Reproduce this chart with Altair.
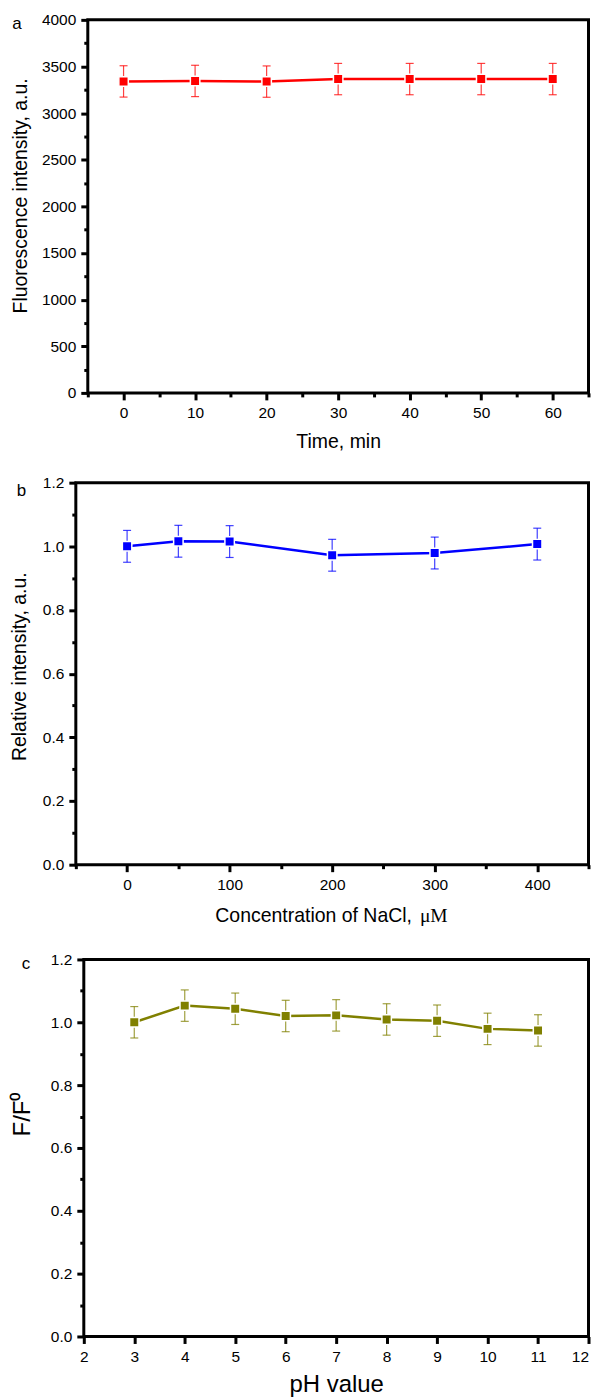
import altair as alt
import pandas as pd

# ---- data ----
time_min = [0, 10, 20, 30, 40, 50, 60]
fluor = [3340, 3345, 3338, 3365, 3365, 3365, 3365]
fluor_err = [168, 168, 168, 168, 168, 168, 168]

nacl_um = [0, 50, 100, 200, 300, 400]
rel_int = [1.000, 1.016, 1.015, 0.972, 0.979, 1.007]
rel_err = [0.05, 0.05, 0.05, 0.05, 0.05, 0.05]

ph_val = [3, 4, 5, 6, 7, 8, 9, 10, 11]
ff0 = [1.000, 1.053, 1.043, 1.020, 1.022, 1.009, 1.005, 0.979, 0.974]
ff0_err = [0.05, 0.05, 0.05, 0.05, 0.05, 0.05, 0.05, 0.05, 0.05]

FONT = "Liberation Sans, Arial, sans-serif"
SERIF = "Liberation Serif, Times New Roman, serif"


def frange(a, b, s):
    out = []
    v = a
    while v <= b + 1e-9:
        out.append(round(v, 6))
        v += s
    return out


def txt(t, x, y, size, align="left", baseline="alphabetic", font=FONT, opacity=1.0):
    return alt.Chart(pd.DataFrame({"t": [t]})).mark_text(
        align=align, baseline=baseline, fontSize=size, font=font,
        color="black", opacity=opacity
    ).encode(text="t:N", x=alt.value(x), y=alt.value(y))


def spacer():
    return alt.Chart(pd.DataFrame({"t": ["."]})).mark_text(opacity=0, fontSize=1).encode(
        text="t:N", x=alt.value(0), y=alt.value(0)
    ).properties(width=1, height=1,
                 view=alt.ViewBackground(strokeWidth=0, strokeOpacity=0))


def panel(xs, ys, es, color, xdom, ydom, xvals, yvals, xminor, yminor,
          yfmt, width, height, ytitle, ytitle_x, ytitle_y, ytitle_size,
          xtitle, xtitle_y, xtitle_size, label, label_x, label_y,
          anchor_left, anchor_top, anchor_bottom, extra=(), last_right=None):
    df = pd.DataFrame({"x": xs, "y": ys, "lo": [a - b for a, b in zip(ys, es)],
                       "hi": [a + b for a, b in zip(ys, es)]})
    xkw = dict(title=xtitle, titleFontSize=xtitle_size, titleY=xtitle_y,
               titleBaseline="alphabetic") if xtitle else dict(title=None)
    if last_right is not None:
        xkw["labelAlign"] = {"condition": {"test": f"datum.value === {last_right}",
                                           "value": "right"}, "value": "center"}
    xaxis = alt.Axis(values=xvals, format="d",
                     labelExpr=f"({xminor}) ? '' : datum.label",
                     tickSize={"condition": {"test": xminor, "value": 4}, "value": 7},
                     **xkw)
    yaxis = alt.Axis(values=yvals, format=yfmt,
                     labelExpr=f"({yminor}) ? '' : datum.label",
                     tickSize={"condition": {"test": yminor, "value": 4}, "value": 7},
                     title=ytitle, titleFontSize=ytitle_size, titleX=ytitle_x,
                     titleY=ytitle_y, titleAngle=270, titleBaseline="alphabetic",
                     titleAlign="center")
    X = alt.X("x:Q", scale=alt.Scale(domain=xdom, nice=False, zero=False), axis=xaxis)
    Yscale = alt.Scale(domain=ydom, nice=False, zero=False)
    base = alt.Chart(df)
    line = base.mark_line(color=color, strokeWidth=2.5).encode(
        x=X, y=alt.Y("y:Q", scale=Yscale, axis=yaxis))
    bars = base.mark_rule(color=color, strokeWidth=1.2, opacity=0.75).encode(
        x=X, y=alt.Y("lo:Q", scale=Yscale, axis=yaxis), y2="hi:Q")
    cap_lo = base.mark_tick(color=color, thickness=1.2, size=8, opacity=0.75,
                            orient="horizontal").encode(
        x=X, y=alt.Y("lo:Q", scale=Yscale, axis=yaxis))
    cap_hi = base.mark_tick(color=color, thickness=1.2, size=8, opacity=0.75,
                            orient="horizontal").encode(
        x=X, y=alt.Y("hi:Q", scale=Yscale, axis=yaxis))
    pts = base.mark_square(size=90, fill=color, fillOpacity=1, stroke="white",
                           strokeWidth=1.5, opacity=1).encode(
        x=X, y=alt.Y("y:Q", scale=Yscale, axis=yaxis))
    layers = [line, bars, cap_lo, cap_hi, pts,
              txt(label, label_x, label_y, 17),
              # invisible anchors fixing this panel's outer bounds
              txt(".", -anchor_left, -anchor_top, 2, baseline="top", opacity=0),
              txt(".", -anchor_left, height + anchor_bottom, 2, baseline="bottom",
                  opacity=0)]
    layers += list(extra)
    body = alt.layer(*layers).properties(width=width, height=height)
    return alt.hconcat(spacer(), body, spacing=0)


# panel a: plot area (page) x 88..590, y 18.3..392.3
pa = panel(time_min, fluor, fluor_err, "#FF0000", [-5, 65], [0, 4000],
           frange(-5, 65, 5), frange(0, 4000, 250),
           "datum.value % 10 !== 0", "datum.value % 500 !== 0",
           "d", 502, 374,
           "Fluorescence intensity, a.u.", -61.5, 176, 19.5,
           "Time, min", 55, 19.5, "a", -75.7, 9.4,
           79, 10, 60)

# panel b: plot area x 76..590, y 482.7..865.7
pb = panel(nacl_um, rel_int, rel_err, "#0000FF", [-50, 450], [0, 1.2],
           frange(-50, 450, 50), frange(0, 1.2, 0.1),
           "datum.value % 100 !== 0", "round(datum.value * 10) % 2 === 1",
           ".1f", 514, 383,
           "Relative intensity, a.u.", -50.5, 184, 19.5,
           None, 0, 0, "b", -59.3, 13.3,
           67, 26, 67,
           extra=[txt("Concentration of NaCl,", 337, 383 + 57.6, 19.5, align="right"),
                  txt("\u03bcM", 345, 383 + 57.6, 19.5, font=SERIF)])

# panel c: plot area x 84..590, y 960..1338.3
pc = panel(ph_val, ff0, ff0_err, "#808000", [2, 12], [0, 1.2],
           frange(2, 12, 0.5), frange(0, 1.2, 0.1),
           "datum.value % 1 !== 0", "round(datum.value * 10) % 2 === 1",
           ".1f", 506, 378,
           "F/F\u2070", -54, 155, 24,
           "pH value", 55, 24, "c", -62.3, 9.3,
           75, 24, 58, last_right=12)

chart = alt.vconcat(pa, pb, pc, spacing=0).properties(
    padding={"left": -3, "top": -1.9, "right": -0.5, "bottom": 0}
).configure_view(stroke="black", strokeWidth=3).configure_axis(
    domain=False, grid=False, tickColor="black", tickWidth=3,
    labelFont=FONT, labelFontSize=15.5, labelColor="black",
    titleFont=FONT, titleFontWeight="normal", titleColor="black"
).configure_axisX(labelPadding=6).configure_axisY(labelPadding=5)

chart.save("out.html", embed_options={"renderer": "svg", "actions": False})
